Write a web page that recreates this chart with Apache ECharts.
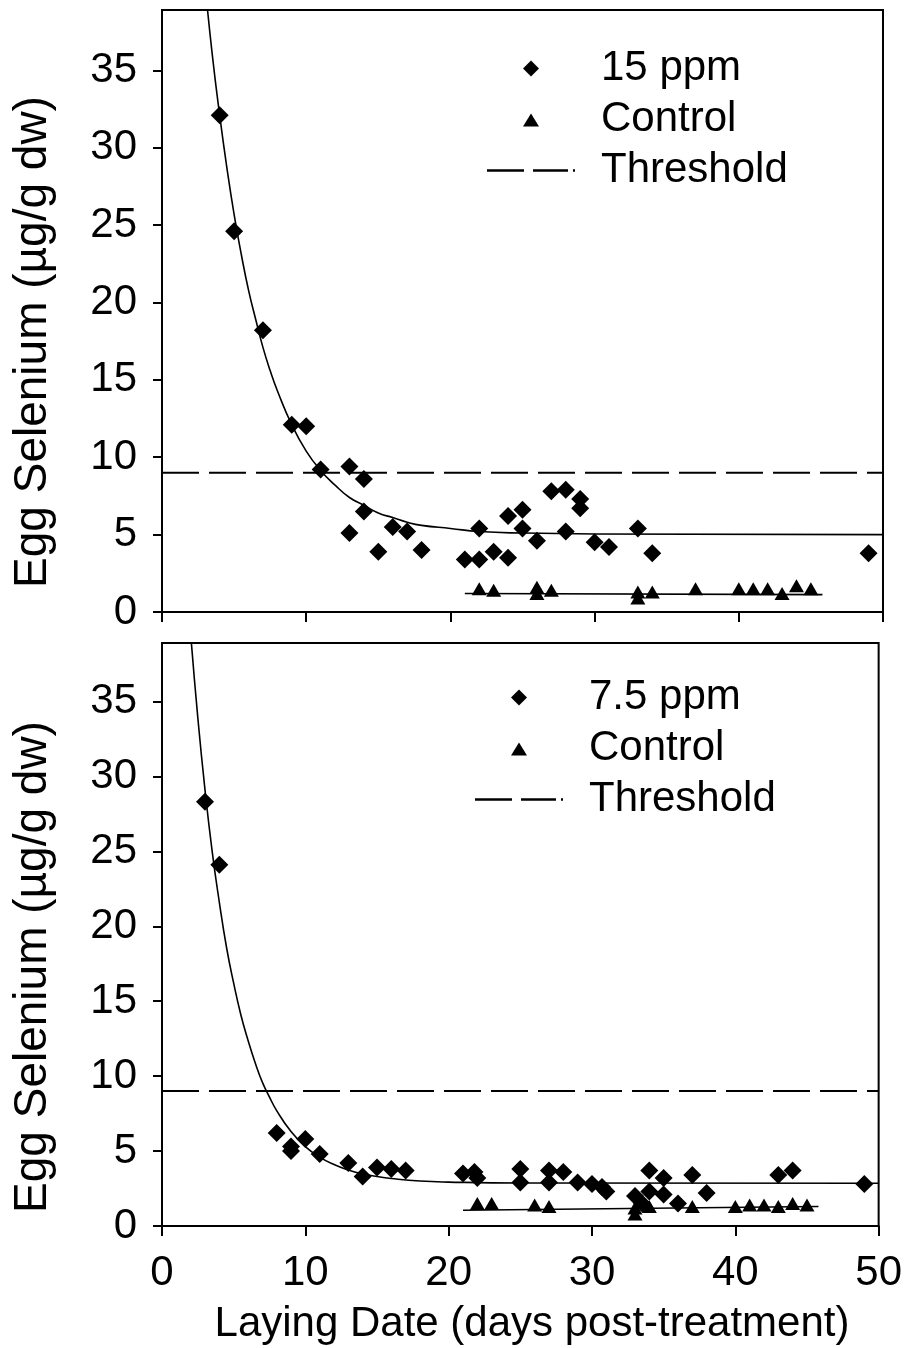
<!DOCTYPE html>
<html>
<head>
<meta charset="utf-8">
<script src="https://cdn.jsdelivr.net/npm/echarts@6/dist/echarts.min.js"></script>
<style>
  html, body { margin: 0; padding: 0; background: #fff; }
  #chart { width: 905px; height: 1348px; }
</style>
</head>
<body>
<div id="chart"></div>
<script>
// ---------- DATA ----------
const xTicks = [0, 10, 20, 30, 40, 50];
const yTicks = [0, 5, 10, 15, 20, 25, 30, 35];
const thresholdValue = 9;

// Top panel: 15 ppm treatment
const top15ppm = [
  [4, 32.1], [5, 24.6], [7, 18.2], [9, 12.1], [10, 12.0], [11, 9.2],
  [13, 9.4], [14, 8.6], [14, 6.5], [13, 5.1], [15, 3.9], [16, 5.5],
  [17, 5.2], [18, 4.0], [21, 3.4], [22, 3.4], [22, 5.4], [23, 3.9],
  [24, 3.5], [24, 6.2], [25, 6.6], [25, 5.4], [26, 4.6], [27, 7.8],
  [28, 7.9], [28, 5.2], [29, 7.3], [29, 6.7], [30, 4.5], [31, 4.2],
  [33, 5.4], [34, 3.8], [49, 3.8]
];
const topControl = [
  [22, 1.5], [23, 1.4], [26, 1.6], [26, 1.2], [27, 1.4], [33, 1.3],
  [33, 0.9], [34, 1.3], [37, 1.5], [40, 1.5], [41, 1.5], [42, 1.5],
  [43, 1.2], [44, 1.7], [45, 1.5]
];
const topFit15ppm = [
  [3.0, 40.4], [3.5, 35.9], [4, 32.1], [4.5, 28.7], [5, 25.7], [5.5, 23.1],
  [6, 20.8], [6.5, 18.9], [7, 17.1], [7.5, 15.6], [8, 14.3], [9, 12.1],
  [10, 10.4], [11, 9.15], [12, 8.2], [13, 7.4], [14, 6.9], [15, 6.4],
  [16, 6.1], [17, 5.8], [18, 5.6], [20, 5.4], [22, 5.2], [25, 5.1],
  [30, 5.04], [50, 5.0]
];
const topFitControl = [[21, 1.2], [45.8, 1.12]];

// Bottom panel: 7.5 ppm treatment
const bottom75ppm = [
  [3, 28.3], [4, 24.1], [8, 6.2], [9, 5.3], [9, 5.0], [10, 5.8],
  [11, 4.8], [13, 4.2], [14, 3.3], [15, 3.9], [16, 3.8], [17, 3.7],
  [21, 3.5], [21.8, 3.6], [22, 3.2], [25, 3.8], [25, 2.9], [27, 3.7],
  [27, 2.9], [28, 3.6], [29, 2.9], [30, 2.8], [30.7, 2.6], [31, 2.3],
  [33, 2.0], [33.5, 1.5], [34, 2.3], [34, 3.7], [35, 3.2], [35, 2.1],
  [36, 1.5], [37, 3.4], [38, 2.2], [43, 3.4], [44, 3.7], [49, 2.8]
];
const bottomControl = [
  [22, 1.5], [23, 1.5], [26, 1.4], [27, 1.3], [33, 1.2], [33, 0.8],
  [34, 1.3], [37, 1.3], [40, 1.3], [41, 1.4], [42, 1.4], [43, 1.3],
  [44, 1.5], [45, 1.4]
];
const bottomFit75ppm = [
  [2.0, 39.5], [2.5, 33.9], [3, 29.1], [3.5, 25.0], [4, 21.6], [4.5, 18.6],
  [5, 16.2], [5.5, 14.1], [6, 12.4], [6.5, 10.9], [7, 9.6], [7.5, 8.6],
  [8, 7.7], [9, 6.3], [10, 5.3], [11, 4.6], [12, 4.1], [13, 3.74],
  [14, 3.48], [15, 3.3], [16, 3.17], [18, 3.0], [20, 2.93], [25, 2.87],
  [50, 2.85]
];
const bottomFitControl = [[21, 1.05], [45.8, 1.3]];

// ---------- CHART ----------
const FONT = '"Liberation Sans", Arial, Helvetica, sans-serif';
const chart = echarts.init(document.getElementById('chart'), null, { renderer: 'canvas' });

const thresholdLine = [[xTicks[0], thresholdValue], [xTicks[xTicks.length - 1], thresholdValue]];
// legend icons: bounding box spans the whole 88x16 item box so shapes keep their proportions
const dashIcon = 'path://M0,0H37V2.5H0Z M46,0H81V2.5H46Z M86,0H88V2.5H86Z';
const diamondIcon = 'path://M0,0M88,16M44,0L52,8L44,16L36,8Z';
const triangleIcon = 'path://M0,0M88,16M44,2L52,15L36,15Z';

function xAxisDef(gridIndex, showLabels) {
  return {
    type: 'value', gridIndex: gridIndex,
    min: xTicks[0], max: xTicks[xTicks.length - 1], interval: 10,
    axisLine: { show: true, lineStyle: { color: '#000', width: 2 } },
    axisTick: { show: true, inside: false, length: 10, lineStyle: { color: '#000', width: 2 } },
    axisLabel: { show: showLabels, fontSize: 42, fontFamily: FONT, color: '#000', margin: 26 },
    splitLine: { show: false }
  };
}
function yAxisDef(gridIndex) {
  return {
    type: 'value', gridIndex: gridIndex,
    min: 0, max: 38.9, interval: 5,
    axisLine: { show: true, lineStyle: { color: '#000', width: 2 } },
    axisTick: { show: true, inside: false, length: 9, lineStyle: { color: '#000', width: 2 } },
    axisLabel: {
      fontSize: 42, fontFamily: FONT, color: '#000', margin: 25, showMaxLabel: false,
      formatter: function (v) { return yTicks.indexOf(v) >= 0 ? String(v) : ''; }
    },
    splitLine: { show: false }
  };
}
function legendDef(top, left, treatName) {
  return {
    orient: 'vertical', top: top, left: left, padding: 0,
    itemWidth: 88, itemHeight: 16, itemGap: 0, selectedMode: false,
    symbolKeepAspect: true,
    textStyle: { fontSize: 42, fontFamily: FONT, color: '#000', lineHeight: 51, padding: [0, 0, 0, 21] },
    data: [
      { name: treatName, icon: diamondIcon, itemStyle: { color: '#000', borderWidth: 0 } },
      { name: 'Control', icon: triangleIcon, itemStyle: { color: '#000', borderWidth: 0 } },
      { name: 'Threshold', icon: dashIcon, itemStyle: { color: '#000', borderWidth: 0 } }
    ]
  };
}
function panelSeries(idx, treatName, treatData, ctrlData, fitTreat, fitCtrl) {
  return [
    {
      name: 'Threshold', type: 'line', xAxisIndex: idx, yAxisIndex: idx,
      data: thresholdLine, showSymbol: false, symbol: 'none', silent: true,
      itemStyle: { color: '#000' },
      lineStyle: { color: '#000', width: 2, type: [37, 10] }, z: 2
    },
    {
      name: treatName + ' fit', type: 'line', xAxisIndex: idx, yAxisIndex: idx,
      data: fitTreat, smooth: true, showSymbol: false, symbol: 'none', clip: true, silent: true,
      lineStyle: { color: '#000', width: 1.6 }, z: 3
    },
    {
      name: 'Control fit', type: 'line', xAxisIndex: idx, yAxisIndex: idx,
      data: fitCtrl, showSymbol: false, symbol: 'none', silent: true,
      lineStyle: { color: '#000', width: 1.6 }, z: 3
    },
    {
      name: treatName, type: 'scatter', xAxisIndex: idx, yAxisIndex: idx,
      data: treatData, symbol: 'diamond', symbolSize: 18,
      itemStyle: { color: '#000', opacity: 1 }, z: 5
    },
    {
      name: 'Control', type: 'scatter', xAxisIndex: idx, yAxisIndex: idx,
      data: ctrlData, symbol: 'triangle', symbolSize: [15, 13],
      itemStyle: { color: '#000', opacity: 1 }, z: 5
    }
  ];
}

const option = {
  backgroundColor: '#fff',
  animation: false,
  textStyle: { fontFamily: FONT },
  grid: [
    { left: 162, top: 10, width: 721, height: 602, show: true, borderColor: '#000', borderWidth: 2, backgroundColor: 'transparent' },
    { left: 162, top: 643, width: 717, height: 583, show: true, borderColor: '#000', borderWidth: 2, backgroundColor: 'transparent' }
  ],
  xAxis: [xAxisDef(0, false), xAxisDef(1, true)],
  yAxis: [yAxisDef(0), yAxisDef(1)],
  legend: [legendDef(43, 487, '15 ppm'), legendDef(672, 475, '7.5 ppm')],
  graphic: [
    { type: 'text', x: 33, y: 342, rotation: Math.PI / 2,
      style: { text: 'Egg Selenium (µg/g dw)', fontSize: 46, fontFamily: FONT, fill: '#000', align: 'center', verticalAlign: 'middle' } },
    { type: 'text', x: 33, y: 967, rotation: Math.PI / 2,
      style: { text: 'Egg Selenium (µg/g dw)', fontSize: 46, fontFamily: FONT, fill: '#000', align: 'center', verticalAlign: 'middle' } },
    { type: 'text', x: 532, y: 1324,
      style: { text: 'Laying Date (days post-treatment)', fontSize: 42, fontFamily: FONT, fill: '#000', align: 'center', verticalAlign: 'middle' } }
  ],
  series: [].concat(
    panelSeries(0, '15 ppm', top15ppm, topControl, topFit15ppm, topFitControl),
    panelSeries(1, '7.5 ppm', bottom75ppm, bottomControl, bottomFit75ppm, bottomFitControl)
  )
};
chart.setOption(option);
</script>
</body>
</html>
